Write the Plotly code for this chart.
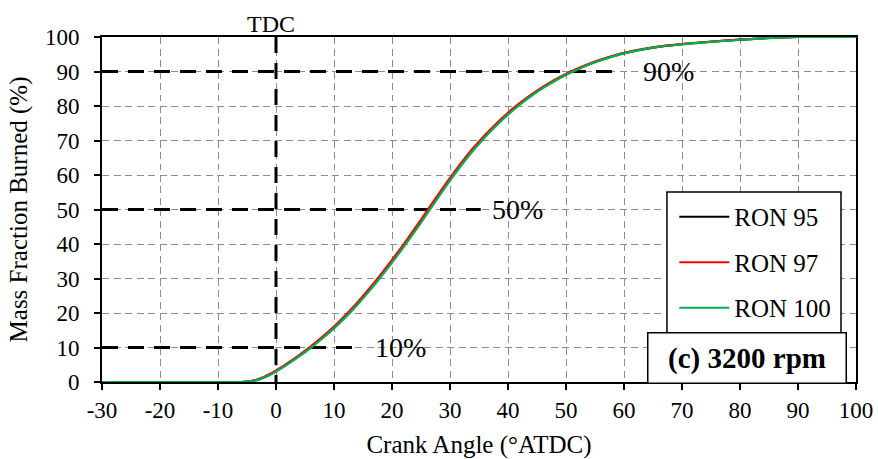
import plotly.graph_objects as go

# ---------------- data ----------------
crank_angle = [-30, -25, -20, -15, -10, -6, -5, -4, -3, -2, -1, 0, 2, 4, 6, 8, 10,
               12, 14, 16, 18, 20, 22, 24, 26, 28, 30, 32, 34, 36, 38, 40, 42, 44, 46, 48, 50,
               52, 54, 56, 58, 60, 65, 70, 75, 80, 85, 90, 95, 100]

mfb_ron95 = [0, 0, 0, 0, 0, 0, 0.11, 0.33, 0.77, 1.4, 2.2, 3.15, 5.27, 7.58, 10.1, 12.81, 15.78,
             19.06, 22.63, 26.5, 30.62, 34.93, 39.45, 44.16, 49.02, 53.92, 58.7, 63.23, 67.4, 71.17, 74.6, 77.73,
             80.55, 83.08, 85.33, 87.33, 89.12,
             90.7, 92.1, 93.33, 94.4, 95.33, 96.94, 97.93, 98.62, 99.22, 99.71, 100, 100, 100]

mfb_ron97 = [0, 0, 0, 0, 0, 0, 0.14, 0.39, 0.87, 1.54, 2.37, 3.35, 5.49, 7.82, 10.36, 13.09, 16.09,
             19.4, 23.0, 26.9, 31.04, 35.37, 39.9, 44.64, 49.51, 54.41, 59.17, 63.67, 67.8, 71.53, 74.93, 78.03,
             80.82, 83.32, 85.54, 87.52, 89.29,
             90.85, 92.23, 93.44, 94.5, 95.41, 97.0, 97.96, 98.64, 99.23, 99.72, 100, 100, 100]

mfb_ron100 = [0, 0, 0, 0, 0, 0, 0.09, 0.29, 0.69, 1.29, 2.07, 3.0, 5.1, 7.4, 9.9, 12.6, 15.55,
              18.8, 22.35, 26.2, 30.3, 34.6, 39.1, 43.8, 48.65, 53.55, 58.35, 62.9, 67.1, 70.9, 74.35, 77.5,
              80.35, 82.9, 85.17, 87.19, 88.99,
              90.59, 92.0, 93.24, 94.32, 95.26, 96.9, 97.9, 98.6, 99.2, 99.7, 100, 100, 100]

series_names = ["RON 95", "RON 97", "RON 100"]
series_colors = ["#000000", "#ff0000", "#00b050"]

ref_levels = [10, 50, 90]           # MFB reference levels (%)
ref_line_ends = [13.2, 35.3, 58.6]  # crank angle where dashed guide stops
ref_labels = ["10%", "50%", "90%"]
ref_label_x = [16.8, 36.9, 63.0]

x_ticks = list(range(-30, 101, 10))
y_ticks = list(range(0, 101, 10))

FONT = "Liberation Serif"

fig = go.Figure()

# dashed guide lines (horizontal) and TDC line
for lvl, xe in zip(ref_levels, ref_line_ends):
    fig.add_trace(go.Scatter(x=[-30, xe], y=[lvl, lvl], mode="lines",
                             line=dict(color="black", width=3, dash="16px,10px"),
                             showlegend=False, hoverinfo="skip"))
fig.add_trace(go.Scatter(x=[0, 0], y=[100, 0], mode="lines",
                         line=dict(color="black", width=3, dash="16px,10px"),
                         showlegend=False, hoverinfo="skip"))

for name, col, ys in zip(series_names, series_colors, [mfb_ron95, mfb_ron97, mfb_ron100]):
    fig.add_trace(go.Scatter(x=crank_angle, y=ys, mode="lines", name=name,
                             legendgroup=name,
                             line=dict(color=col, width=2.2, shape="spline", smoothing=0.6)))

# guide labels
for lvl, lx, lab in zip(ref_levels, ref_label_x, ref_labels):
    fig.add_annotation(x=lx, y=lvl, text=lab, showarrow=False, xanchor="left", yanchor="middle",
                       font=dict(family=FONT, size=28, color="black"))

fig.add_annotation(x=-0.8, y=100, text="TDC", showarrow=False, xanchor="center", yanchor="bottom",
                   yshift=-2, font=dict(family=FONT, size=24, color="black"))

# speed label box
fig.add_annotation(xref="paper", yref="paper", x=0.8548, y=0.0682, text="<b>(c) 3200 rpm</b>",
                   showarrow=False, xanchor="center", yanchor="middle", width=197, height=49,
                   bgcolor="white", bordercolor="black", borderwidth=1.5, borderpad=0,
                   font=dict(family=FONT, size=29, color="black"))

# legend frame
fig.add_shape(type="rect", xref="paper", yref="paper", x0=0.7493, x1=0.9801, y0=0.13, y1=0.551,
              line=dict(color="black", width=1.5), fillcolor="white", layer="above")

fig.update_layout(
    width=878, height=459,
    margin=dict(l=102, r=22, t=37, b=77, autoexpand=False),
    paper_bgcolor="white", plot_bgcolor="white",
    font=dict(family=FONT, size=23, color="black"),
    legend=dict(x=0.759, y=0.545, xanchor="left", yanchor="top",
                bgcolor="rgba(0,0,0,0)", borderwidth=0, itemwidth=50,
                font=dict(family=FONT, size=25, color="black"),
                tracegroupgap=10, traceorder="grouped"),
    xaxis=dict(range=[-30, 100], tickvals=x_ticks, ticktext=[str(v) for v in x_ticks],
               showline=True, linecolor="black", linewidth=2, mirror=True,
               ticks="outside", ticklen=6, tickwidth=1.5, tickcolor="black",
               showgrid=True, gridcolor="#8c8c8c", gridwidth=1.2, griddash="7px,4.5px",
               zeroline=False, automargin=False,
               tickfont=dict(family=FONT, size=23),
               title=dict(text="Crank Angle (°ATDC)", standoff=15, font=dict(family=FONT, size=25))),
    yaxis=dict(range=[0, 100], tickvals=y_ticks, ticktext=[str(v) for v in y_ticks],
               showline=True, linecolor="black", linewidth=2, mirror=True,
               ticks="outside", ticklen=6, tickwidth=1.5, tickcolor="black",
               ticklabelstandoff=10,
               showgrid=True, gridcolor="#8c8c8c", gridwidth=1.2, griddash="7px,4.5px",
               zeroline=False, automargin=False,
               tickfont=dict(family=FONT, size=23),
               title=dict(text="Mass Fraction Burned (%)", standoff=10, font=dict(family=FONT, size=25))),
)

fig.write_html("out.html")
